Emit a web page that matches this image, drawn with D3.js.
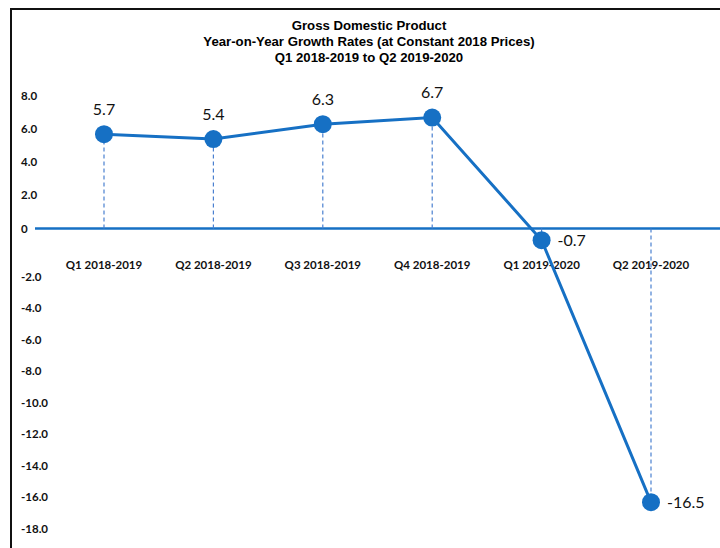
<!DOCTYPE html>
<html>
<head>
<meta charset="utf-8">
<script src="https://cdn.jsdelivr.net/npm/d3@7"></script>
<style>
  html, body { margin: 0; padding: 0; background: #fff; }
  svg { display: block; }
</style>
</head>
<body>
<svg id="chart" width="720" height="548"></svg>
<script>
const titleLines = [
  "Gross Domestic Product",
  "Year-on-Year Growth Rates (at Constant 2018 Prices)",
  "Q1 2018-2019 to Q2 2019-2020"
];
const categories = ["Q1 2018-2019", "Q2 2018-2019", "Q3 2018-2019", "Q4 2018-2019", "Q1 2019-2020", "Q2 2019-2020"];
const values = [5.7, 5.4, 6.3, 6.7, -0.7, -16.5];
const valueLabels = ["5.7", "5.4", "6.3", "6.7", "-0.7", "-16.5"];
const yTicks = [8, 6, 4, 2, 0, -2, -4, -6, -8, -10, -12, -14, -16, -18];
const yTickLabels = ["8.0", "6.0", "4.0", "2.0", "0", "-2.0", "-4.0", "-6.0", "-8.0", "-10.0", "-12.0", "-14.0", "-16.0", "-18.0"];

const svg = d3.select("#chart");
const W = 720, H = 548;

const x = d3.scalePoint().domain(categories).range([104, 651]);
const y = d3.scaleLinear().domain([8, -18]).range([96, 527]);
// tick labels in the original sit slightly lower below zero
const yLab = d3.scaleLinear().domain([8, 0, -2, -18]).range([y(8), y(0), y(0) + 48, y(-18) + 2]);

// frame
svg.append("path")
  .attr("d", `M11,${H} L11,9 L${W},9`)
  .attr("fill", "none").attr("stroke", "#111").attr("stroke-width", 2);

// title
svg.append("g").selectAll("text").data(titleLines).join("text")
  .attr("x", 369).attr("y", (d, i) => 30 + i * 16)
  .attr("text-anchor", "middle")
  .attr("font-family", "Liberation Sans, Arial, sans-serif")
  .attr("font-weight", "bold").attr("font-size", 13.2)
  .attr("fill", "#000")
  .text(d => d);

// y tick labels
svg.append("g").selectAll("text").data(yTicks).join("text")
  .attr("x", 21).attr("y", d => yLab(d))
  .attr("dy", "0.35em")
  .attr("font-family", "Lato, 'Open Sans', sans-serif")
  .attr("font-weight", "bold").attr("font-size", 11.5)
  .attr("fill", "#111")
  .text((d, i) => yTickLabels[i]);

// zero line
svg.append("line")
  .attr("x1", 35).attr("x2", W)
  .attr("y1", y(0)).attr("y2", y(0))
  .attr("stroke", "#1670c4").attr("stroke-width", 2.5);

// category labels
svg.append("g").selectAll("text").data(categories).join("text")
  .attr("x", d => x(d)).attr("y", y(0) + 40)
  .attr("text-anchor", "middle")
  .attr("font-family", "Lato, 'Open Sans', sans-serif")
  .attr("font-weight", "bold").attr("font-size", 11.5)
  .attr("fill", "#111")
  .text(d => d);

// drop lines
svg.append("g").selectAll("line").data(values).join("line")
  .attr("x1", (d, i) => x(categories[i])).attr("x2", (d, i) => x(categories[i]))
  .attr("y1", y(0)).attr("y2", d => y(d))
  .attr("stroke", "#4a80d0").attr("stroke-width", 1.2)
  .attr("stroke-dasharray", "4,3");

// line
const line = d3.line().x((d, i) => x(categories[i])).y(d => y(d));
svg.append("path").datum(values)
  .attr("d", line)
  .attr("fill", "none").attr("stroke", "#1670c4").attr("stroke-width", 3);

// markers
svg.append("g").selectAll("circle").data(values).join("circle")
  .attr("cx", (d, i) => x(categories[i])).attr("cy", d => y(d))
  .attr("r", 9)
  .attr("fill", "#1670c4");

// value labels
svg.append("g").selectAll("text").data(values).join("text")
  .attr("x", (d, i) => d >= 0 ? x(categories[i]) : x(categories[i]) + 16)
  .attr("y", d => d >= 0 ? y(d) - 19.5 : y(d))
  .attr("dy", d => d >= 0 ? "0" : "0.35em")
  .attr("text-anchor", d => d >= 0 ? "middle" : "start")
  .attr("font-family", "Lato, 'Open Sans', sans-serif")
  .attr("font-size", 16)
  .attr("fill", "#111")
  .text((d, i) => valueLabels[i]);
</script>
</body>
</html>
